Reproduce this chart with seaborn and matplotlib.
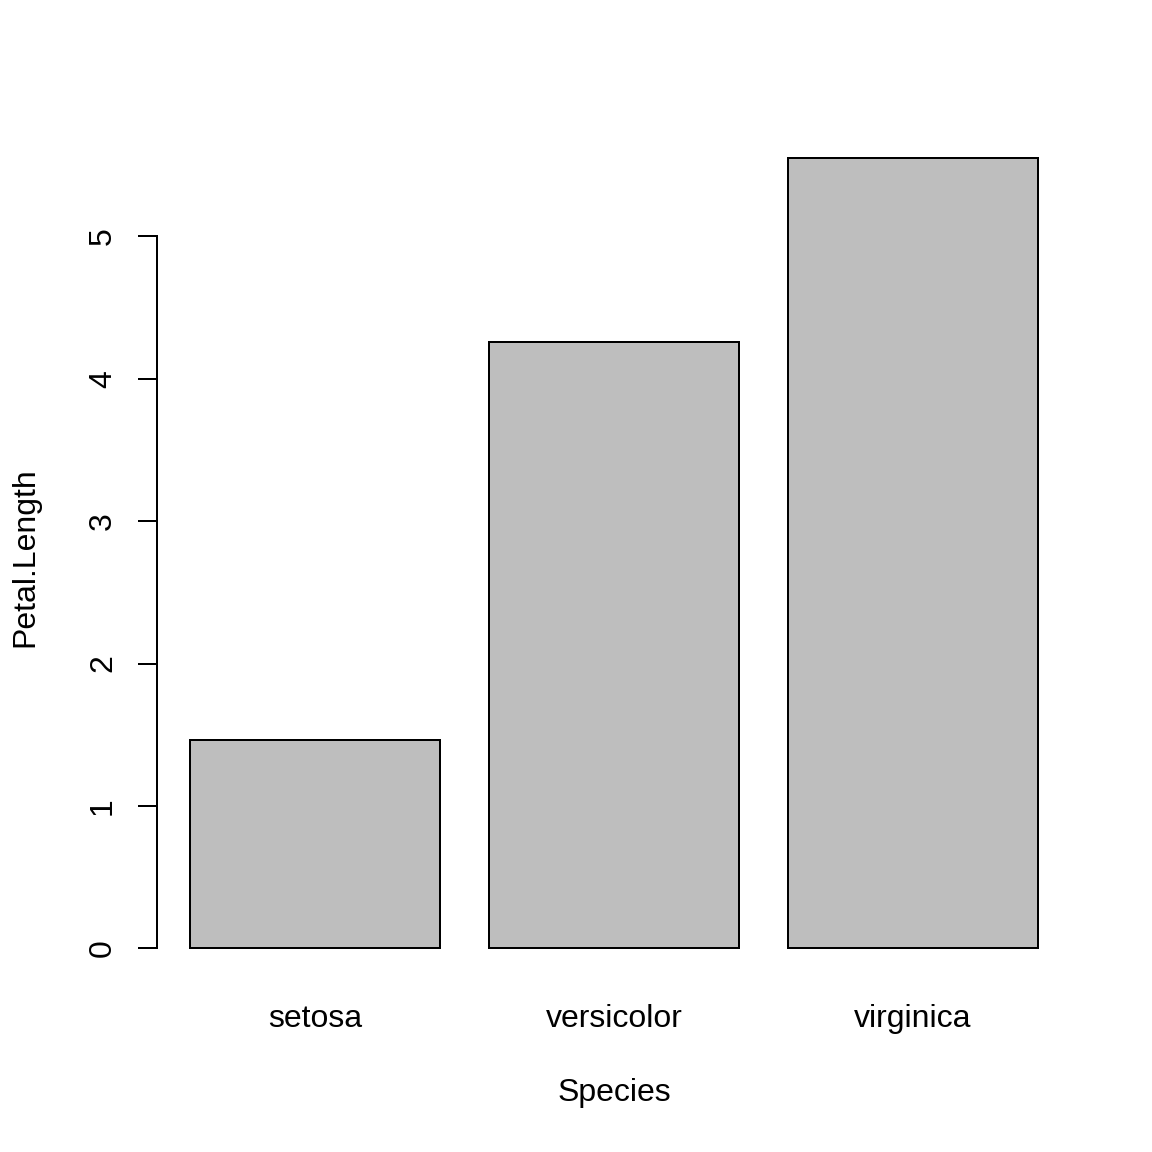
import matplotlib
matplotlib.use("Agg")
import matplotlib.pyplot as plt
import seaborn as sns
import pandas as pd

species = ["setosa", "versicolor", "virginica"]
petal_length = [1.462, 4.260, 5.552]

df = pd.DataFrame({"Species": species, "Petal.Length": petal_length})

sns.set_style("white")
plt.rcParams["font.family"] = ["Liberation Sans", "DejaVu Sans"]
plt.rcParams["text.color"] = "black"

fig = plt.figure(figsize=(8, 8), dpi=144)
# plot region placed like R's default margins
ax = fig.add_axes([157 / 1152, 1 - 980 / 1152, (1074 - 157) / 1152, (980 - 126) / 1152])

sns.barplot(data=df, x="Species", y="Petal.Length", order=species,
            color="#BEBEBE", saturation=1, width=250 / 299,
            edgecolor="black", linewidth=1.0, ax=ax)

ax.set_xlim(-0.5284, 2.5385)
ax.set_ylim(-0.2221, 5.7741)

for s in ["top", "right", "bottom"]:
    ax.spines[s].set_visible(False)
ax.spines["left"].set_bounds(0, 5)
ax.spines["left"].set_linewidth(1.0)
ax.spines["left"].set_color("black")

ax.set_yticks([0, 1, 2, 3, 4, 5])
ax.set_yticklabels(["0", "1", "2", "3", "4", "5"], rotation=90, va="center")
ax.tick_params(axis="y", direction="out", length=9.5, width=1.0, pad=10,
               labelsize=16, left=True, colors="black")
ax.tick_params(axis="x", length=0, pad=12, labelsize=16, colors="black")

ax.set_xlabel("")
ax.set_ylabel("")
fig.text(614 / 1152, 1 - 1093 / 1152, "Species", ha="center", va="center", fontsize=16)
fig.text(25 / 1152, 1 - 557 / 1152, "Petal.Length", ha="center", va="center",
         rotation=90, fontsize=16)

fig.savefig("out.png", dpi=144)
